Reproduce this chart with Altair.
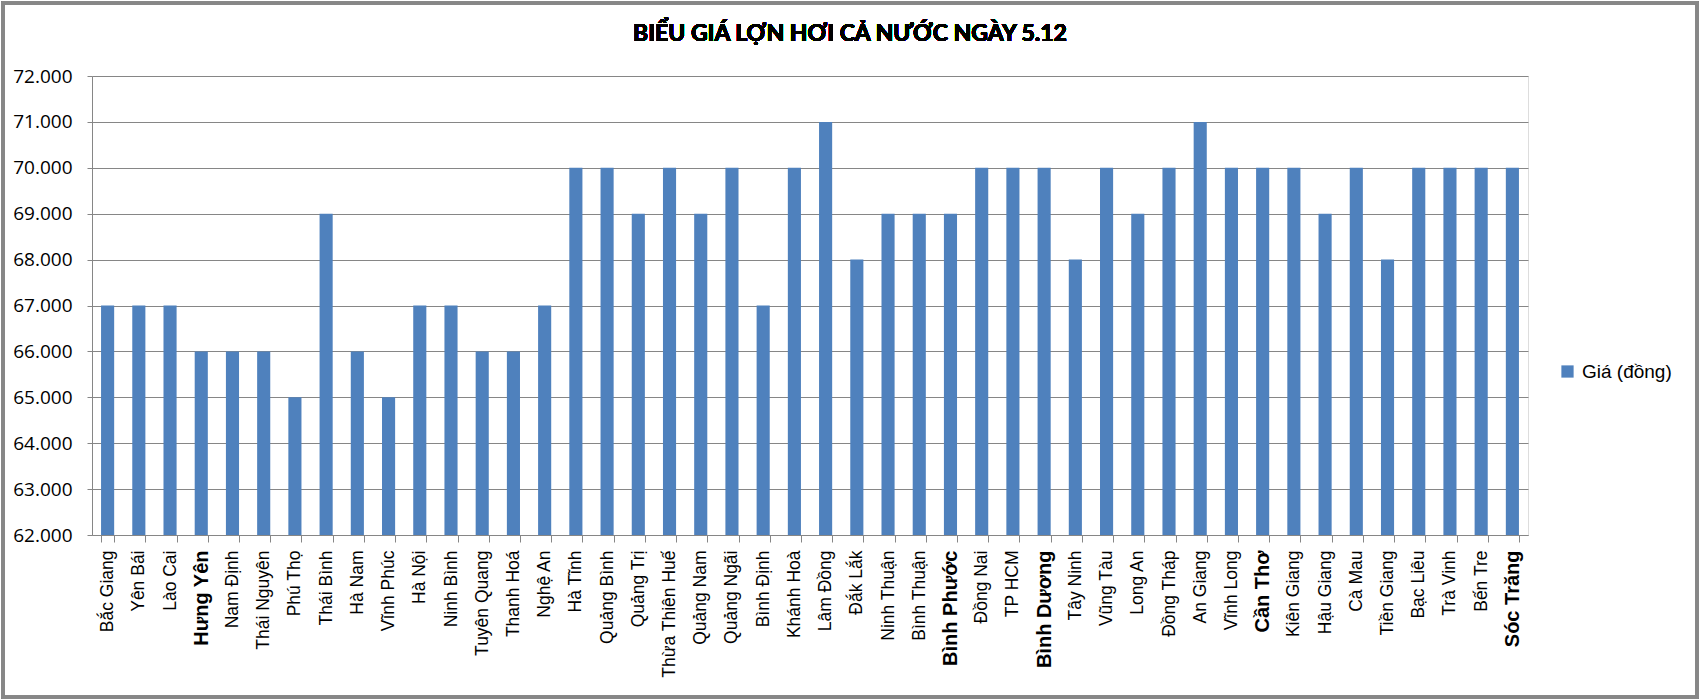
import altair as alt
import pandas as pd

provinces = ["Bắc Giang", "Yên Bái", "Lào Cai", "Hưng Yên", "Nam Định", "Thái Nguyên", "Phú Thọ",
             "Thái Bình", "Hà Nam", "Vĩnh Phúc", "Hà Nội", "Ninh Bình", "Tuyên Quang", "Thanh Hoá",
             "Nghệ An", "Hà Tĩnh", "Quảng Bình", "Quảng Trị", "Thừa Thiên Huế", "Quảng Nam",
             "Quảng Ngãi", "Bình Định", "Khánh Hoà", "Lâm Đồng", "Đắk Lắk", "Ninh Thuận",
             "Bình Thuận", "Bình Phước", "Đồng Nai", "TP HCM", "Bình Dương", "Tây Ninh", "Vũng Tàu",
             "Long An", "Đồng Tháp", "An Giang", "Vĩnh Long", "Cần Thơ", "Kiên Giang", "Hậu Giang",
             "Cà Mau", "Tiền Giang", "Bạc Liêu", "Trà Vinh", "Bến Tre", "Sóc Trăng"]
prices = [67000, 67000, 67000, 66000, 66000, 66000, 65000,
          69000, 66000, 65000, 67000, 67000, 66000, 66000,
          67000, 70000, 70000, 69000, 70000, 69000,
          70000, 67000, 70000, 71000, 68000, 69000,
          69000, 69000, 70000, 70000, 70000, 68000, 70000,
          69000, 70000, 71000, 70000, 70000, 70000, 69000,
          70000, 68000, 70000, 70000, 70000, 70000]
bold_labels = ["Hưng Yên", "Bình Phước", "Bình Dương", "Cần Thơ", "Sóc Trăng"]
y_ticks = [62000, 63000, 64000, 65000, 66000, 67000, 68000, 69000, 70000, 71000, 72000]
series_name = "Giá (đồng)"
title_text = "BIỂU GIÁ LỢN HƠI CẢ NƯỚC NGÀY 5.12"

df = pd.DataFrame({"province": provinces, "price": prices, "series": series_name})

bold_list = "[" + ",".join("'" + b + "'" for b in bold_labels) + "]"

W, H = 1436, 459
GRID = "#868686"

bars = alt.Chart(df).mark_bar(color="#4F81BD", clip=True).encode(
    x=alt.X("province:N", sort=provinces, title=None,
            scale=alt.Scale(paddingInner=0.58, paddingOuter=0.29),
            axis=alt.Axis(labelAngle=-90, tickBand="extent", tickSize=7, labelPadding=8,
                          tickColor=GRID, domainColor=GRID, domainWidth=1,
                          labelFont="Liberation Sans", labelColor="#000000",
                          labelFontSize={"expr": "indexof(" + bold_list + ", datum.value) >= 0 ? 20 : 17.5"},
                          labelFontWeight={"expr": "indexof(" + bold_list + ", datum.value) >= 0 ? 'bold' : 'normal'"},
                          grid=False)),
    y=alt.Y("price:Q", title=None,
            scale=alt.Scale(domain=[62000, 72000], nice=False, zero=False),
            axis=alt.Axis(values=y_ticks,
                          labelExpr="replace(format(datum.value, ',.0f'), ',', '.')",
                          tickSize=5, labelPadding=15, tickColor=GRID, domainColor=GRID,
                          gridColor=GRID, gridWidth=1, labelFont="Open Sans",
                          labelFontSize=19, labelColor="#000000")),
    color=alt.Color("series:N", scale=alt.Scale(range=["#4F81BD"]),
                    legend=alt.Legend(title=None, orient="none", legendX=1466, legendY=286,
                                      symbolType="square", symbolSize=150, symbolStrokeWidth=0,
                                      labelFont="Liberation Sans", labelFontSize=19,
                                      labelColor="#000000", labelOffset=5)),
)

border = alt.Chart(df).mark_rect(fill=None, stroke="#878787", strokeWidth=2.5).encode(
    x=alt.value(-89), x2=alt.value(1605), y=alt.value(-73), y2=alt.value(621)
)

title = alt.Chart(df).mark_text(font="Lato", fontSize=23, fontWeight="bold", color="#000000",
                                align="center", baseline="alphabetic").encode(
    x=alt.value(758), y=alt.value(-35), text=alt.value(title_text)
)

chart = alt.layer(border, bars, title).properties(
    width=W, height=H,
    autosize=alt.AutoSizeParams(type="none"),
    padding={"left": 92, "top": 76, "right": 171, "bottom": 164},
).configure_view(stroke=None).configure(background="#ffffff")

chart.save("out.html", embed_options={"renderer": "svg", "actions": False})
